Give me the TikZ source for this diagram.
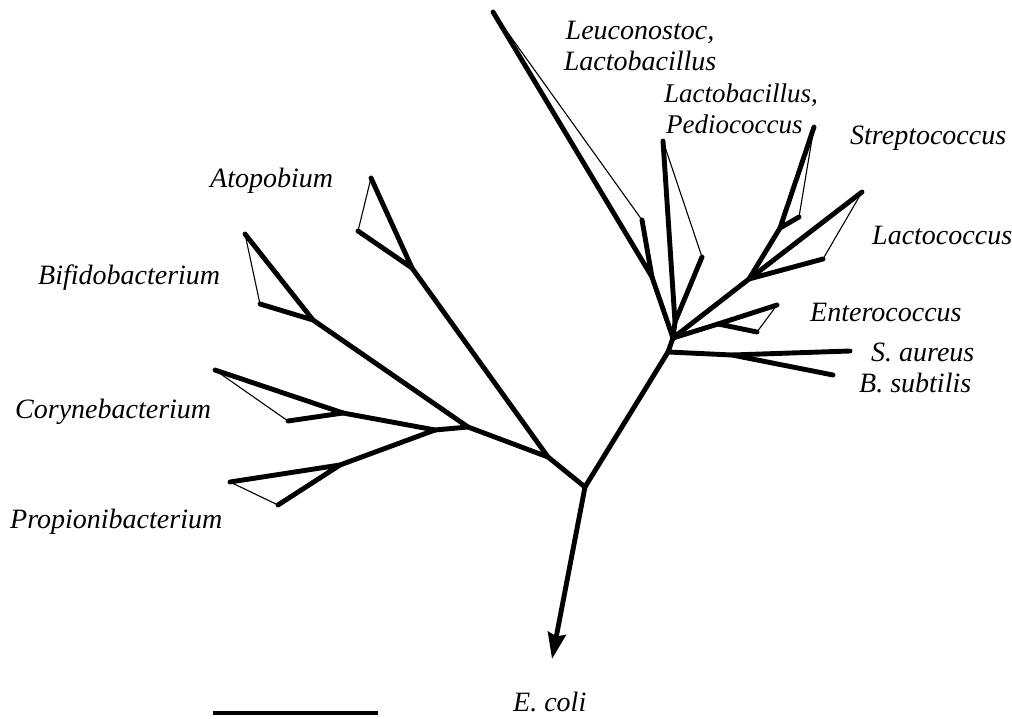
\documentclass[tikz,border=0pt]{standalone}
\usepackage{fontspec}
\setmainfont{Liberation Serif}
\usetikzlibrary{arrows.meta}
\begin{document}
\begin{tikzpicture}[x=1pt,y=-1pt,
  branch/.style={line width=4.9pt,line cap=round,line join=round},
  edge/.style={line width=1.1pt,line cap=round},
  lab/.style={inner sep=0pt,font=\fontsize{28}{31}\selectfont\itshape},
  rootarrow/.style={line width=4.9pt,-{Stealth[length=26pt,width=18pt,inset=3pt]}}]
\useasboundingbox (0,0) rectangle (1012,719);
% internal points
\coordinate (root) at (585,487);
\coordinate (out) at (552,659);
\coordinate (L) at (548,457);
\coordinate (Atop) at (412,268);
\coordinate (at1) at (371,178);
\coordinate (at2) at (358,231);
\coordinate (M) at (468,427);
\coordinate (Bif) at (313,320);
\coordinate (bf1) at (245,234);
\coordinate (bf2) at (260,304);
\coordinate (CP) at (435,430);
\coordinate (Cor) at (343,413);
\coordinate (co1) at (215,370);
\coordinate (co2) at (288,421);
\coordinate (Pro) at (340,465);
\coordinate (pr1) at (230,482);
\coordinate (pr2) at (278,505);
\coordinate (R0) at (668,352);
\coordinate (SB) at (732,355);
\coordinate (sa) at (850,351);
\coordinate (bs) at (833,375);
\coordinate (R) at (673,338);
\coordinate (E) at (718,324);
\coordinate (en1) at (777,305);
\coordinate (en2) at (757,332);
\coordinate (A) at (749,279);
\coordinate (lc1) at (862,192);
\coordinate (lc2) at (823,259);
\coordinate (S) at (780,228);
\coordinate (st1) at (814,127);
\coordinate (st2) at (799,217);
\coordinate (LP) at (675,322);
\coordinate (lp1) at (663,141);
\coordinate (lp2) at (702,257);
\coordinate (Leu) at (652,277);
\coordinate (le1) at (493,12);
\coordinate (le2) at (642,220);
\coordinate (bar1) at (213,713);
\coordinate (bar2) at (378,713);
% backbone
\draw[rootarrow] (root) -- (out);
\draw[branch] (root) -- (L) -- (M) -- (CP);
\draw[branch] (L) -- (Atop);
\draw[branch] (M) -- (Bif);
\draw[branch] (CP) -- (Cor);
\draw[branch] (CP) -- (Pro);
\draw[branch] (root) -- (R0) -- (R);
\draw[branch] (R0) -- (SB) -- (sa);
\draw[branch] (SB) -- (bs);
\draw[branch] (R) -- (E);
\draw[branch] (R) -- (A) -- (S);
\draw[branch] (R) -- (LP);
\draw[branch] (R) -- (Leu);
% wedges
\draw[branch] (at1) -- (Atop) -- (at2);
\draw[edge] (at1) -- (at2);
\draw[branch] (bf1) -- (Bif) -- (bf2);
\draw[edge] (bf1) -- (bf2);
\draw[branch] (co1) -- (Cor) -- (co2);
\draw[edge] (co1) -- (co2);
\draw[branch] (pr1) -- (Pro) -- (pr2);
\draw[edge] (pr1) -- (pr2);
\draw[branch] (en1) -- (E) -- (en2);
\draw[edge] (en1) -- (en2);
\draw[branch] (lc1) -- (A) -- (lc2);
\draw[edge] (lc1) -- (lc2);
\draw[branch] (st1) -- (S) -- (st2);
\draw[edge] (st1) -- (st2);
\draw[branch] (lp1) -- (LP) -- (lp2);
\draw[edge] (lp1) -- (lp2);
\draw[branch] (le1) -- (Leu) -- (le2);
\draw[edge] (le1) -- (le2);
% scale bar
\draw[line width=4pt] (bar1) -- (bar2);
% labels
\node[lab,align=center] (tLeu) at (640,46) {Leuconostoc,\\Lactobacillus};
\node[lab,font=\fontsize{27}{31}\selectfont\itshape,align=left,anchor=west] (tLP) at (664,109) {Lactobacillus,\\\hspace*{2pt}Pediococcus};
\node[lab,anchor=west] (tSt) at (850,138) {Streptococcus};
\node[lab,anchor=west] (tAt) at (210,181) {Atopobium};
\node[lab,anchor=west] (tLc) at (872,235) {Lactococcus};
\node[lab,anchor=west] (tBf) at (38,278) {Bifidobacterium};
\node[lab,anchor=west] (tEn) at (810,312) {Enterococcus};
\node[lab,anchor=west] (tSa) at (871,352) {S. aureus};
\node[lab,anchor=west] (tBs) at (859,383) {B. subtilis};
\node[lab,anchor=west] (tCo) at (15,412) {Corynebacterium};
\node[lab,anchor=west] (tPr) at (10,522) {Propionibacterium};
\node[lab,anchor=west] (tEc) at (513,702) {E. coli};
\end{tikzpicture}
\end{document}
